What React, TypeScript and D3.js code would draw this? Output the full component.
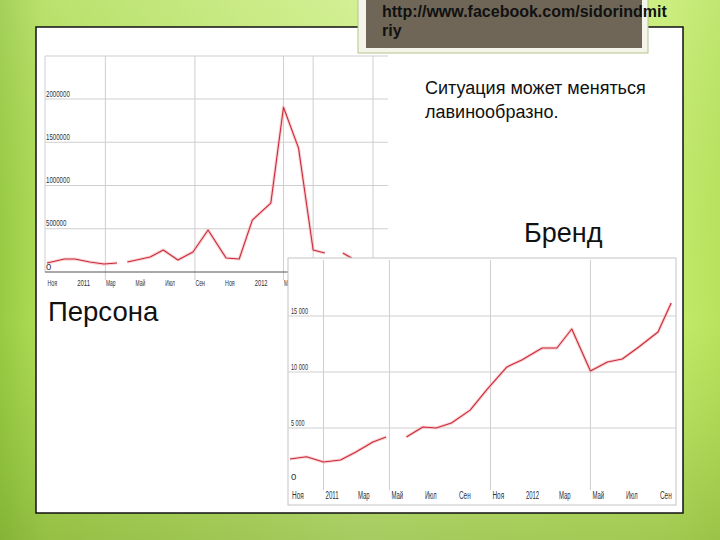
import React from "react";
import * as d3 from "d3";

// ---------- DATA ----------
const monthLabels = ["Ноя", "2011", "Мар", "Май", "Июл", "Сен", "Ноя", "2012", "Мар", "Май", "Июл", "Сен"];

// Chart 1 ("Персона")
const personaDates = [
  "2010-11-01", "2010-12-07", "2010-12-28", "2011-01-28", "2011-02-26", "2011-03-25",
  "2011-04-05",
  "2011-04-15", "2011-05-04", "2011-06-01", "2011-06-28", "2011-07-28", "2011-08-28",
  "2011-09-28", "2011-11-04", "2011-12-01", "2011-12-28", "2012-02-04", "2012-03-01",
  "2012-04-01", "2012-05-01", "2012-05-25",
  "2012-06-15",
  "2012-07-01", "2012-07-19",
];
const personaValues: (number | null)[] = [
  104000, 150000, 150000, 115000, 92000, 104000,
  null,
  115000, 139000, 173000, 254000, 139000, 231000,
  485000, 162000, 150000, 600000, 797000, 1905000,
  1432000, 254000, 219000,
  null,
  219000, 162000,
];
const personaYTicks = [0, 500000, 1000000, 1500000, 2000000];
const personaYLabels = ["0", "500000", "1000000", "1500000", "2000000"];
const personaGridDates = ["2011-03-01", "2011-09-01", "2012-03-01", "2012-05-01", "2012-09-01"];

// Chart 2 ("Бренд")
const brandDates = [
  "2010-11-01", "2010-12-01", "2011-01-01", "2011-02-01", "2011-03-01", "2011-04-01",
  "2011-04-25",
  "2011-05-15",
  "2011-06-01", "2011-07-01", "2011-07-25", "2011-08-22", "2011-09-25", "2011-10-25",
  "2011-12-01", "2011-12-28", "2012-02-03", "2012-03-01", "2012-03-28", "2012-05-01",
  "2012-06-01", "2012-06-28", "2012-07-28", "2012-09-01", "2012-09-25",
];
const brandValues: (number | null)[] = [
  2230, 2430, 1960, 2140, 2860, 3750,
  4200,
  null,
  4200, 5090, 5000, 5450, 6600, 8400,
  10450, 11070, 12140, 12140, 13840, 10090,
  10890, 11160, 12230, 13570, 16160,
];
const brandYTicks = [0, 5000, 10000, 15000];
const brandYLabels = ["0", "5 000", "10 000", "15 000"];
const brandGridDates = ["2011-01-01", "2011-05-01", "2011-11-01", "2012-05-01"];

const tickStart = "2010-11-01";
const tickEnd = "2012-09-01";

const urlLines = ["http://www.facebook.com/sidorindmit", "riy"];
const noteLines = ["Ситуация может меняться", "лавинообразно."];
const brandTitle = "Бренд";
const personaTitle = "Персона";

// ---------- HELPERS ----------
const parse = d3.timeParse("%Y-%m-%d");
const tickDates = d3.timeMonth.every(2)!.range(parse(tickStart)!, d3.timeDay.offset(parse(tickEnd)!, 1));

type Pt = { d: Date; v: number | null };
const zip = (ds: string[], vs: (number | null)[]): Pt[] => ds.map((s, i) => ({ d: parse(s)!, v: vs[i] }));

const LINE = "#c92b38";
const HALO = "#f6b3b9";
const GRID = "#cfcfcf";
const LABEL = "#2b2f3a";
const NARROW = "Liberation Sans Narrow, Arial Narrow, Liberation Sans, sans-serif";

// width of condensed tick label text
const labelLen = (s: string, perChar: number) => (s.length <= 1 ? undefined : s.replace(/ /g, "").length * perChar);

export default function App() {
  // chart 1 scales
  const x1 = d3.scaleTime().domain([parse(tickStart)!, parse(tickEnd)!]).range([47, 373]);
  const y1 = d3.scaleLinear().domain([0, 2000000]).range([272, 99]);
  const p1 = zip(personaDates, personaValues);
  const line1 = d3.line<Pt>().defined((d) => d.v != null).x((d) => x1(d.d)).y((d) => y1(d.v as number));

  // chart 2 scales
  const x2 = d3.scaleTime().domain([parse(tickStart)!, parse(tickEnd)!]).range([290, 658]);
  const y2 = d3.scaleLinear().domain([0, 15000]).range([484, 316]);
  const p2 = zip(brandDates, brandValues);
  const line2 = d3.line<Pt>().defined((d) => d.v != null).x((d) => x2(d.d)).y((d) => y2(d.v as number));

  const c1 = { left: 45, top: 56, right: 388, bottom: 272 };
  const c2 = { left: 288, top: 258, right: 676, bottom: 505 };

  return (
    <svg width={720} height={540} style={{ position: "absolute", left: 0, top: 0 }} fontFamily="Liberation Sans, Arial, sans-serif">
      <defs>
        <linearGradient id="bgH" x1="0" x2="1" y1="0" y2="0">
          <stop offset="0" stopColor="#98cb44" />
          <stop offset="0.06" stopColor="#b1dd5a" />
          <stop offset="0.5" stopColor="#cdee86" />
          <stop offset="0.92" stopColor="#c6ec70" />
          <stop offset="1" stopColor="#b9e35e" />
        </linearGradient>
        <linearGradient id="bgV" x1="0" x2="0" y1="0" y2="1">
          <stop offset="0" stopColor="#ffffff" stopOpacity="0.12" />
          <stop offset="0.6" stopColor="#6f9a22" stopOpacity="0" />
          <stop offset="1" stopColor="#5f8a1a" stopOpacity="0.35" />
        </linearGradient>
      </defs>
      <rect x={0} y={0} width={720} height={540} fill="url(#bgH)" />
      <rect x={0} y={0} width={720} height={540} fill="url(#bgV)" />

      {/* white panel */}
      <rect x={36} y={27} width={647} height={486} fill="#ffffff" stroke="#111" strokeWidth={1.5} />

      {/* ---- chart 1 ---- */}
      <g>
        {personaYTicks.map((t, i) => (
          <g key={"g1" + i}>
            {t > 0 && <line x1={c1.left} x2={c1.right} y1={y1(t)} y2={y1(t)} stroke={GRID} strokeWidth={1} />}
            <text x={46} y={y1(t) - 2.5} fontSize={9.5} fontFamily={NARROW} fill={LABEL}
              textLength={labelLen(personaYLabels[i], 3.4)} lengthAdjust="spacingAndGlyphs">
              {personaYLabels[i]}
            </text>
          </g>
        ))}
        {personaGridDates.map((s, i) => (
          <line key={"v1" + i} x1={x1(parse(s)!)} x2={x1(parse(s)!)} y1={c1.top} y2={280} stroke={GRID} strokeWidth={1} />
        ))}
        <line x1={c1.left} x2={c1.right} y1={c1.top} y2={c1.top} stroke={GRID} strokeWidth={1} />
        <line x1={c1.left} x2={c1.left} y1={c1.top} y2={c1.bottom} stroke={GRID} strokeWidth={1} />
        <line x1={c1.left} x2={c1.right} y1={c1.bottom} y2={c1.bottom} stroke="#555" strokeWidth={1} />
        {tickDates.map((d, i) => (
          <text key={"t1" + i} x={x1(d) + 0.5} y={286} fontSize={9.5} fontFamily={NARROW} fill={LABEL}
            textLength={labelLen(monthLabels[i], 3.2)} lengthAdjust="spacingAndGlyphs">
            {monthLabels[i]}
          </text>
        ))}
        <path d={line1(p1) || ""} fill="none" stroke={HALO} strokeWidth={3.2} strokeLinejoin="round" opacity={0.6} />
        <path d={line1(p1) || ""} fill="none" stroke={LINE} strokeWidth={1.1} strokeLinejoin="round" />
      </g>

      {/* ---- chart 2 ---- */}
      <g>
        <rect x={c2.left} y={c2.top} width={c2.right - c2.left} height={c2.bottom - c2.top} fill="#ffffff" stroke="#c4c4c4" strokeWidth={1} />
        {brandYTicks.map((t, i) => (
          <g key={"g2" + i}>
            {t > 0 && <line x1={c2.left} x2={c2.right} y1={y2(t)} y2={y2(t)} stroke={GRID} strokeWidth={1} />}
            <text x={291} y={y2(t) - (t === 0 ? 4 : 2.5)} fontSize={9.5} fontFamily={NARROW} fill={LABEL}
              textLength={labelLen(brandYLabels[i], 3.4)} lengthAdjust="spacingAndGlyphs">
              {brandYLabels[i]}
            </text>
          </g>
        ))}
        {brandGridDates.map((s, i) => (
          <line key={"v2" + i} x1={x2(parse(s)!)} x2={x2(parse(s)!)} y1={c2.top + 2} y2={490} stroke={GRID} strokeWidth={1} />
        ))}
        {tickDates.map((d, i) => (
          <text key={"t2" + i} x={x2(d) + 2} y={499} fontSize={10} fontFamily={NARROW} fill={LABEL}
            textLength={labelLen(monthLabels[i], monthLabels[i].length === 4 ? 3.3 : 3.9)} lengthAdjust="spacingAndGlyphs">
            {monthLabels[i]}
          </text>
        ))}
        <path d={line2(p2) || ""} fill="none" stroke={HALO} strokeWidth={3.2} strokeLinejoin="round" opacity={0.6} />
        <path d={line2(p2) || ""} fill="none" stroke={LINE} strokeWidth={1.1} strokeLinejoin="round" />
      </g>

      {/* URL box */}
      <rect x={358} y={-2} width={290} height={55} fill="#f4f4ea" stroke="#b5c48a" strokeWidth={1} />
      <rect x={366} y={-2} width={276} height={50} fill="#6f6657" />
      {urlLines.map((s, i) => (
        <text key={"u" + i} x={382} y={17 + i * 19} fontSize={16} fontWeight="bold" fill="#111">
          {s}
        </text>
      ))}

      {/* notes */}
      {noteLines.map((s, i) => (
        <text key={"n" + i} x={425} y={94 + i * 24} fontSize={18} fill="#111">
          {s}
        </text>
      ))}
      <text x={524} y={242} fontSize={27} fill="#111">{brandTitle}</text>
      <text x={48} y={321} fontSize={27.5} fill="#111">{personaTitle}</text>
    </svg>
  );
}
